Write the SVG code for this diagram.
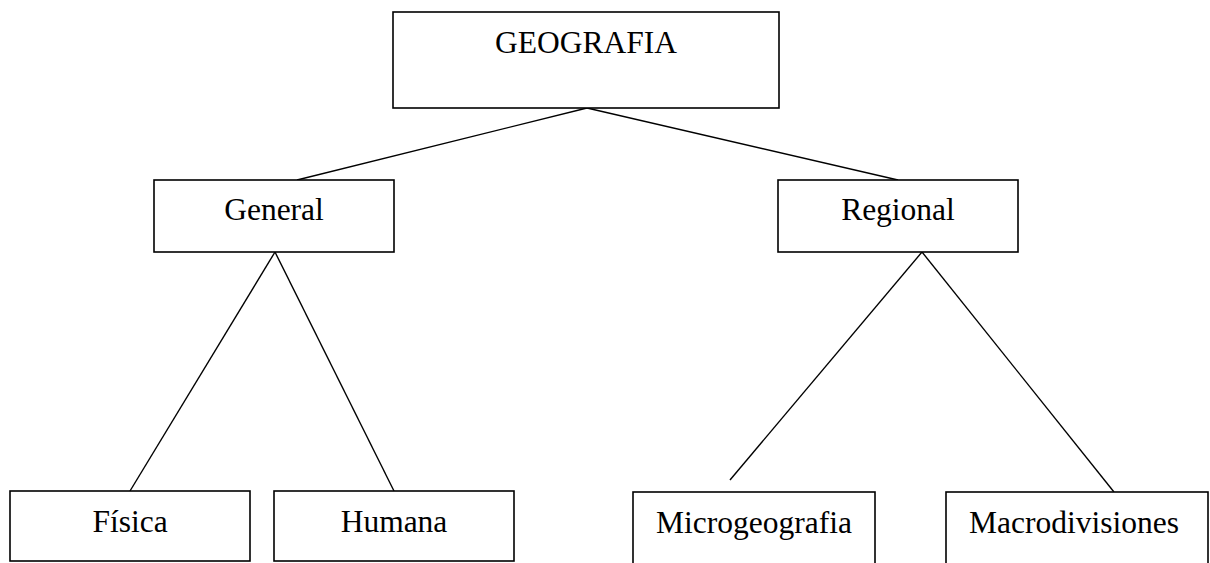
<svg xmlns="http://www.w3.org/2000/svg" width="1210" height="563" viewBox="0 0 1210 563">
<style>
.box{fill:#fff;stroke:#000;stroke-width:1.6}
.lbl{font-family:"Liberation Serif","Times New Roman",serif;font-size:31.5px;fill:#000;text-anchor:middle}
.ln{stroke:#000;stroke-width:1.4;fill:none}
</style>
<rect width="1210" height="563" fill="#fff"/>
<g id="connectors">
<line class="ln" x1="587" y1="108" x2="297" y2="180"/>
<line class="ln" x1="587" y1="108" x2="898" y2="180"/>
<line class="ln" x1="275" y1="252" x2="130" y2="491"/>
<line class="ln" x1="275" y1="252" x2="394" y2="491"/>
<line class="ln" x1="922" y1="252" x2="730" y2="480"/>
<line class="ln" x1="922" y1="252" x2="1114" y2="492"/>
</g>
<g id="geografia">
<rect class="box" x="393" y="12" width="386" height="96"/>
<text class="lbl" x="586" y="53">GEOGRAFIA</text>
</g>
<g id="general">
<rect class="box" x="154" y="180" width="240" height="72"/>
<text class="lbl" x="274" y="220">General</text>
</g>
<g id="regional">
<rect class="box" x="778" y="180" width="240" height="72"/>
<text class="lbl" x="898" y="220">Regional</text>
</g>
<g id="fisica">
<rect class="box" x="10" y="491" width="240" height="70"/>
<text class="lbl" x="130" y="532">Física</text>
</g>
<g id="humana">
<rect class="box" x="274" y="491" width="240" height="70"/>
<text class="lbl" x="394" y="532">Humana</text>
</g>
<g id="microgeografia">
<rect class="box" x="633" y="492" width="242" height="75"/>
<text class="lbl" x="754" y="533">Microgeografia</text>
</g>
<g id="macrodivisiones">
<rect class="box" x="946" y="492" width="262" height="75"/>
<text class="lbl" x="1074" y="533">Macrodivisiones</text>
</g>
</svg>
